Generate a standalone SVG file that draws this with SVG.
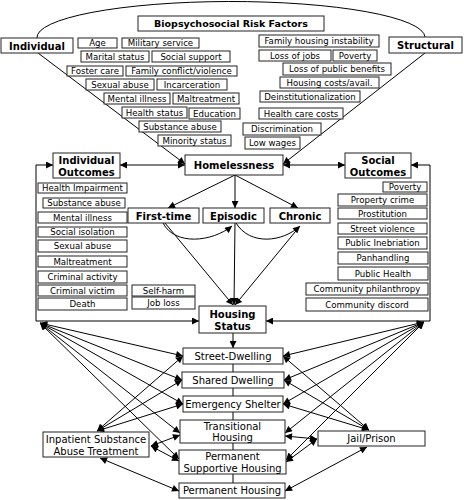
<svg xmlns="http://www.w3.org/2000/svg" width="464" height="500" viewBox="0 0 464 500">
<defs>
<marker id="a" viewBox="0 0 10 10" refX="10" refY="5" markerWidth="8" markerHeight="7" markerUnits="userSpaceOnUse" orient="auto-start-reverse"><path d="M0,0 L10,5 L0,10 z" fill="#000"/></marker>
<style>
rect{fill:#fff;stroke:#222;stroke-width:1}
text{font-family:"DejaVu Sans",Verdana,sans-serif;font-size:8.6px;text-anchor:middle;fill:#000}
.h{font-weight:bold;font-size:10px}
.h9{font-weight:bold;font-size:9.5px}
.l{font-size:10px}
#conn path,#conn line{fill:none;stroke:#000;stroke-width:1}
.e{marker-end:url(#a)}
.d{marker-end:url(#a);marker-start:url(#a)}
</style>
</defs>
<rect x="0" y="0" width="464" height="500" style="fill:#fff;stroke:none"/>
<g id="conn">
<path d="M37,38 A194,36 0 0 1 425,37"/>
<line class="e" x1="38" y1="53" x2="185" y2="164"/>
<line class="e" x1="425" y1="53" x2="283" y2="164"/>
<line class="d" x1="120" y1="165" x2="185" y2="165"/>
<line class="d" x1="283" y1="165" x2="345" y2="165"/>
<line class="e" x1="36" y1="165" x2="53" y2="165"/>
<path class="e" d="M36,165 V321 H199"/>
<line class="e" x1="430" y1="165" x2="411" y2="165"/>
<path class="e" d="M430,165 V321 H266"/>
<line class="e" x1="235" y1="175" x2="168" y2="208"/>
<line class="e" x1="235" y1="175" x2="235" y2="208"/>
<line class="e" x1="235" y1="175" x2="298" y2="208"/>
<path class="e" d="M163,223 C175,246 212,242 232,226"/>
<path class="e" d="M236,223 C250,246 283,242 300,226"/>
<line class="e" x1="165" y1="223" x2="233" y2="305"/>
<line class="e" x1="235" y1="223" x2="234" y2="305"/>
<line x1="300" y1="226" x2="235" y2="305" class="e"/>
<line class="e" x1="233" y1="333" x2="233" y2="348"/>
<line x1="233" y1="364" x2="233" y2="372"/>
<line x1="233" y1="388" x2="233" y2="396"/>
<line x1="233" y1="412" x2="233" y2="420"/>
<line x1="233" y1="443" x2="233" y2="450"/>
<line x1="233" y1="474" x2="233" y2="483"/>
<line class="d" x1="40" y1="323" x2="183" y2="356"/>
<line class="d" x1="40" y1="323" x2="182" y2="380"/>
<line class="d" x1="40" y1="323" x2="183" y2="404"/>
<line class="d" x1="40" y1="323" x2="180" y2="433"/>
<line class="d" x1="40" y1="323" x2="179" y2="459"/>
<line class="d" x1="97" y1="431" x2="183" y2="356"/>
<line class="d" x1="97" y1="431" x2="182" y2="380"/>
<line class="d" x1="97" y1="431" x2="183" y2="404"/>
<line class="d" x1="151" y1="446" x2="180" y2="435"/>
<line class="d" x1="151" y1="446" x2="179" y2="461"/>
<line class="d" x1="100" y1="458" x2="179" y2="491"/>
<line class="d" x1="424" y1="322" x2="283" y2="356"/>
<line class="d" x1="424" y1="322" x2="284" y2="380"/>
<line class="d" x1="424" y1="322" x2="283" y2="404"/>
<line class="d" x1="424" y1="322" x2="285" y2="433"/>
<line class="d" x1="424" y1="322" x2="286" y2="460"/>
<line class="d" x1="369" y1="430" x2="283" y2="356"/>
<line class="d" x1="369" y1="430" x2="284" y2="380"/>
<line class="d" x1="369" y1="430" x2="283" y2="404"/>
<line class="d" x1="317" y1="439" x2="285" y2="436"/>
<line class="d" x1="317" y1="439" x2="286" y2="462"/>
<line class="d" x1="367" y1="447" x2="285" y2="491"/>
</g>
<g id="biopsychosocial"><rect x="138" y="16" width="186" height="15"/><text class="h9" x="231" y="27">Biopsychosocial Risk Factors</text></g>
<g id="individual"><rect x="1" y="38" width="72" height="15"/><text class="h" x="37" y="49.5">Individual</text></g>
<g id="structural"><rect x="389" y="37" width="73" height="16"/><text class="h" x="425.5" y="49">Structural</text></g>
<g id="r-age"><rect x="78" y="38" width="39" height="10"/><text x="97.5" y="46">Age</text></g>
<g id="r-military"><rect x="122" y="38" width="77" height="10"/><text x="160.5" y="46">Military service</text></g>
<g id="r-marital"><rect x="81" y="51" width="68" height="11"/><text x="115" y="59.5">Marital status</text></g>
<g id="r-social"><rect x="152" y="51" width="78" height="11"/><text x="191" y="59.5">Social support</text></g>
<g id="r-foster"><rect x="67" y="66" width="56" height="10"/><text x="95" y="74">Foster care</text></g>
<g id="r-family"><rect x="126" y="66" width="111" height="10"/><text x="181.5" y="74">Family conflict/violence</text></g>
<g id="r-sexual"><rect x="86" y="79" width="68" height="11"/><text x="120" y="87.5">Sexual abuse</text></g>
<g id="r-incarceration"><rect x="157" y="79" width="70" height="11"/><text x="192" y="87.5">Incarceration</text></g>
<g id="r-mental"><rect x="104" y="93" width="66" height="11"/><text x="137" y="101.5">Mental illness</text></g>
<g id="r-maltreatment"><rect x="173" y="93" width="66" height="11"/><text x="206" y="101.5">Maltreatment</text></g>
<g id="r-health"><rect x="122" y="107" width="65" height="11"/><text x="154.5" y="115.5">Health status</text></g>
<g id="r-education"><rect x="189" y="108" width="51" height="11"/><text x="214.5" y="116.5">Education</text></g>
<g id="r-substance"><rect x="139" y="121" width="82" height="11"/><text x="180" y="129.5">Substance abuse</text></g>
<g id="r-minority"><rect x="158" y="135" width="73" height="11"/><text x="194.5" y="143.5">Minority status</text></g>
<g id="s-familyhousing"><rect x="259" y="35" width="120" height="12"/><text x="319" y="44">Family housing instability</text></g>
<g id="s-jobs"><rect x="259" y="50" width="72" height="11"/><text x="295" y="58.5">Loss of jobs</text></g>
<g id="s-poverty"><rect x="333" y="50" width="44" height="11"/><text x="355" y="58.5">Poverty</text></g>
<g id="s-benefits"><rect x="283" y="63" width="108" height="12"/><text x="337" y="72">Loss of public benefits</text></g>
<g id="s-costs"><rect x="280" y="77" width="99" height="11"/><text x="329.5" y="85.5">Housing costs/avail.</text></g>
<g id="s-deinst"><rect x="260" y="91" width="100" height="11"/><text x="310" y="99.5">Deinstitutionalization</text></g>
<g id="s-healthcare"><rect x="259" y="108" width="84" height="11"/><text x="301" y="116.5">Health care costs</text></g>
<g id="s-discrimination"><rect x="243" y="123" width="78" height="12"/><text x="282" y="132">Discrimination</text></g>
<g id="s-wages"><rect x="245" y="137" width="55" height="12"/><text x="272.5" y="146">Low wages</text></g>
<g id="homelessness"><rect x="185" y="155" width="98" height="20"/><text class="h" x="234" y="168.5">Homelessness</text></g>
<g id="individual-outcomes"><rect x="53" y="153" width="67" height="25"/><text class="h" x="86.5" y="164">Individual</text><text class="h" x="86.5" y="175.5">Outcomes</text></g>
<g id="social-outcomes"><rect x="345" y="153" width="66" height="25"/><text class="h" x="378" y="164">Social</text><text class="h" x="378" y="175.5">Outcomes</text></g>
<g id="first-time"><rect x="128" y="208" width="71" height="15"/><text class="h" x="163.5" y="219.5">First-time</text></g>
<g id="episodic"><rect x="203" y="208" width="61" height="15"/><text class="h" x="233.5" y="219.5">Episodic</text></g>
<g id="chronic"><rect x="270" y="208" width="60" height="15"/><text class="h" x="300" y="219.5">Chronic</text></g>
<g id="io-health"><rect x="38" y="183" width="89" height="10"/><text x="82.5" y="191">Health Impairment</text></g>
<g id="io-substance"><rect x="43" y="198" width="82" height="10"/><text x="84" y="206">Substance abuse</text></g>
<g id="io-mental"><rect x="38" y="212" width="89" height="11"/><text x="82.5" y="220.5">Mental illness</text></g>
<g id="io-isolation"><rect x="38" y="227" width="89" height="10"/><text x="82.5" y="235">Social isolation</text></g>
<g id="io-sexual"><rect x="38" y="240" width="89" height="12"/><text x="82.5" y="249">Sexual abuse</text></g>
<g id="io-maltreatment"><rect x="38" y="256" width="89" height="11"/><text x="82.5" y="264.5">Maltreatment</text></g>
<g id="io-criminal-activity"><rect x="38" y="271" width="89" height="12"/><text x="82.5" y="280">Criminal activity</text></g>
<g id="io-criminal-victim"><rect x="38" y="285" width="89" height="11"/><text x="82.5" y="293.5">Criminal victim</text></g>
<g id="io-death"><rect x="38" y="298" width="89" height="12"/><text x="82.5" y="307">Death</text></g>
<g id="io-selfharm"><rect x="132" y="285" width="63" height="11"/><text x="163.5" y="293.5">Self-harm</text></g>
<g id="io-jobloss"><rect x="132" y="297" width="63" height="12"/><text x="163.5" y="306">Job loss</text></g>
<g id="so-poverty"><rect x="383" y="182" width="44" height="10"/><text x="405" y="190">Poverty</text></g>
<g id="so-property"><rect x="338" y="194" width="89" height="12"/><text x="382.5" y="203">Property crime</text></g>
<g id="so-prostitution"><rect x="338" y="208" width="89" height="11"/><text x="382.5" y="216.5">Prostitution</text></g>
<g id="so-violence"><rect x="338" y="223" width="89" height="11"/><text x="382.5" y="231.5">Street violence</text></g>
<g id="so-inebriation"><rect x="338" y="237" width="89" height="12"/><text x="382.5" y="246">Public Inebriation</text></g>
<g id="so-panhandling"><rect x="338" y="252" width="90" height="12"/><text x="383" y="261">Panhandling</text></g>
<g id="so-publichealth"><rect x="338" y="267" width="90" height="13"/><text x="383" y="276.5">Public Health</text></g>
<g id="so-philanthropy"><rect x="306" y="283" width="122" height="12"/><text x="367" y="292">Community philanthropy</text></g>
<g id="so-discord"><rect x="306" y="298" width="122" height="13"/><text x="367" y="307.5">Community discord</text></g>
<g id="housing-status"><rect x="199" y="306" width="67" height="27"/><text class="h" x="232.5" y="318">Housing</text><text class="h" x="232.5" y="330">Status</text></g>
<g id="street"><rect x="183" y="348" width="100" height="16"/><text class="l" x="233" y="359.5">Street-Dwelling</text></g>
<g id="shared"><rect x="182" y="372" width="102" height="16"/><text class="l" x="233" y="383.5">Shared Dwelling</text></g>
<g id="emergency"><rect x="183" y="396" width="100" height="16"/><text class="l" x="233" y="407.5">Emergency Shelter</text></g>
<g id="transitional"><rect x="180" y="420" width="105" height="23"/><text class="l" x="232.5" y="430">Transitional</text><text class="l" x="232.5" y="441">Housing</text></g>
<g id="supportive"><rect x="179" y="450" width="107" height="24"/><text class="l" x="232.5" y="460">Permanent</text><text class="l" x="232.5" y="471.5">Supportive Housing</text></g>
<g id="permanent"><rect x="179" y="483" width="106" height="15"/><text class="l" x="232" y="494">Permanent Housing</text></g>
<g id="inpatient"><rect x="43" y="432" width="106" height="25"/><text class="l" x="96" y="443">Inpatient Substance</text><text class="l" x="96" y="454.5">Abuse Treatment</text></g>
<g id="jail"><rect x="318" y="431" width="107" height="15"/><text class="l" x="371.5" y="442">Jail/Prison</text></g>
</svg>
